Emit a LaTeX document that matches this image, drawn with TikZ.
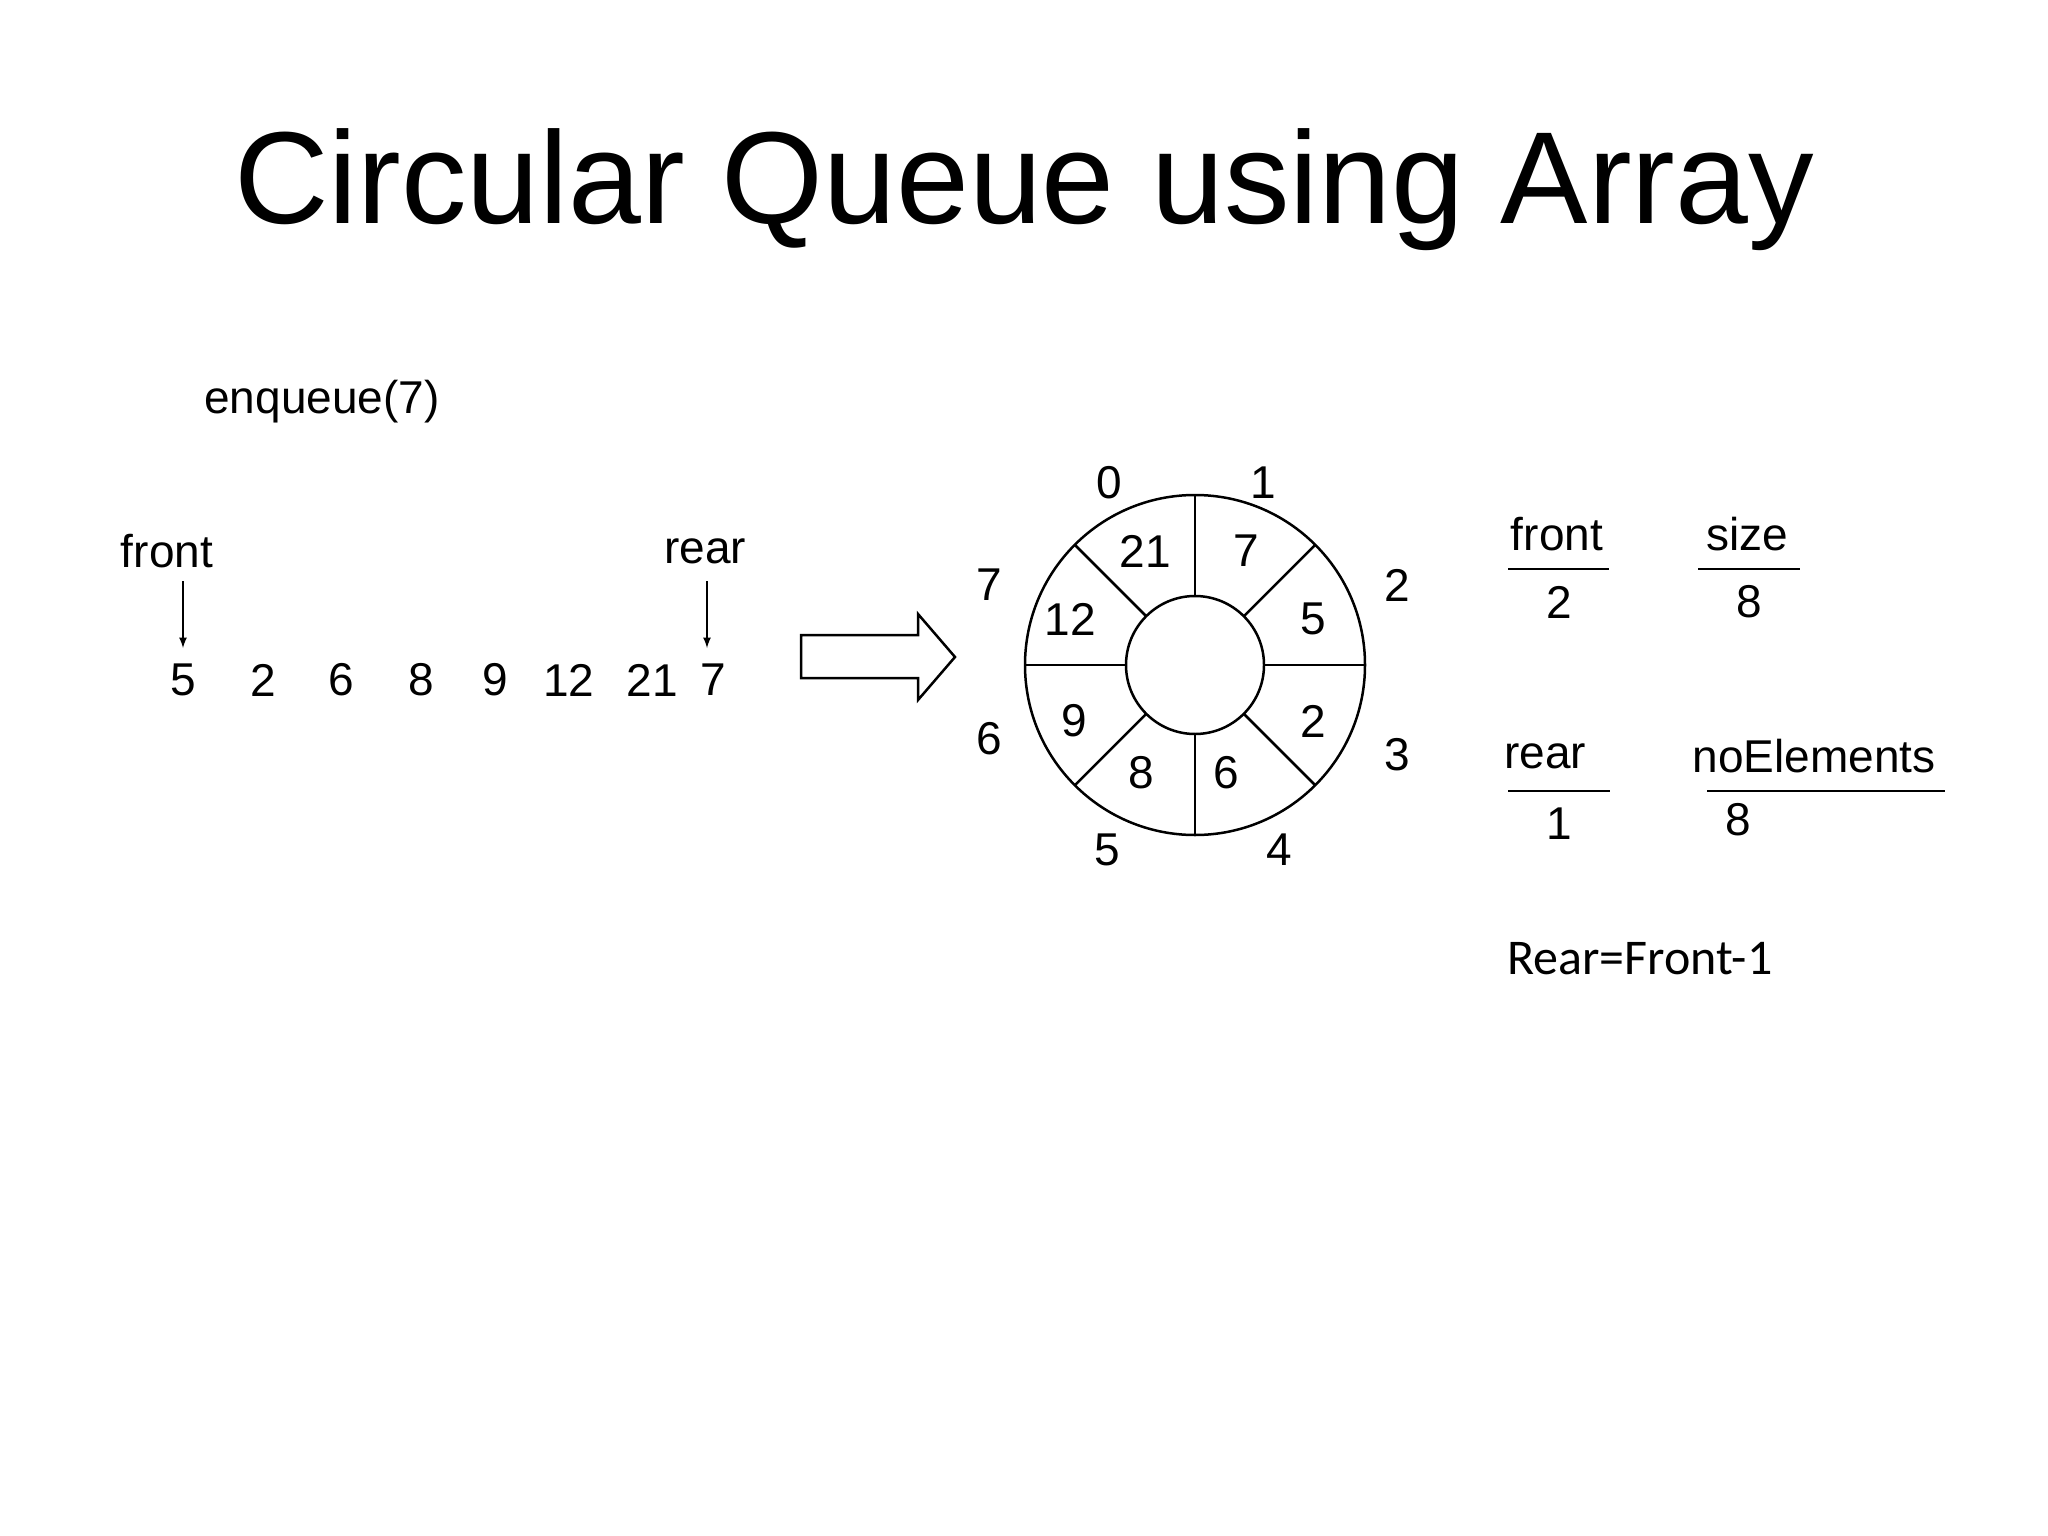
\documentclass[tikz,border=0pt]{standalone}
\usetikzlibrary{calc}
\usepackage{fontspec}
\setmainfont{Liberation Sans}
\newfontfamily\carl{Carlito}
\begin{document}
\begin{tikzpicture}[x=1pt,y=-1pt,line width=2.5pt,
  lab/.style={inner sep=0pt,font=\fontsize{46}{50}\selectfont},
  arr/.style={->,>=latex}]
\useasboundingbox (0,0) rectangle (2048,1536);
\node[inner sep=0pt,font=\fontsize{131}{140}\selectfont] (title) at (1024,190) {Circular Queue using Array};
\node[lab] (enq) at (322,402) {enqueue(7)};
\node[lab] (fr) at (167,551) {front};
\node[lab] (re) at (705,551) {rear};
\foreach \v/\x [count=\i] in {5/183,2/263,6/341,8/421,9/495,12/569,21/652,7/713}
  \node[lab] (n\i) at (\x,680) {\v};
\coordinate (fa) at (183,581); \coordinate (fb) at (183,648);
\coordinate (ra) at (707,581); \coordinate (rb) at (707,648);
\draw[arr] (fa) -- (fb);
\draw[arr] (ra) -- (rb);
\draw (801,635) -- (918,635) -- (918,614) -- (955,657) -- (918,700) -- (918,678) -- (801,678) -- cycle;
\coordinate (c) at (1195,665);
\draw (c) circle[radius=170];
\draw (c) circle[radius=69];
\foreach \a in {0,45,...,315}
  \draw ($(c)+(\a:69)$) -- ($(c)+(\a:170)$);
\foreach \t/\x/\y [count=\i] in {0/1109/483,1/1263/483,2/1397/585,3/1397/755,4/1279/850,5/1107/850,6/989/739,7/989/585}
  \node[lab] (idx\i) at (\x,\y) {\t};
\foreach \t/\x/\y [count=\i] in {21/1145/551,7/1246/551,5/1313/619,2/1313/721,6/1226/773,8/1141/773,9/1074/721,12/1070/619}
  \node[lab] (cell\i) at (\x,\y) {\t};
\node[lab] (f1) at (1557,534) {front};
\draw (1508,569) -- (1609,569);
\node[lab] (f2) at (1559,602) {2};
\node[lab] (s1) at (1747,534) {size};
\draw (1698,569) -- (1800,569);
\node[lab] (s2) at (1749,602) {8};
\node[lab] (r1) at (1545,756) {rear};
\draw (1508,791) -- (1610,791);
\node[lab] (r2) at (1559,824) {1};
\node[lab] (e1) at (1814,756) {noElements};
\draw (1707,791) -- (1945,791);
\node[lab] (e2) at (1738,820) {8};
\node[inner sep=0pt,anchor=west,font=\carl\fontsize{50}{54}\selectfont] (eq) at (1506,959) {Rear=Front-1};
\end{tikzpicture}
\end{document}
